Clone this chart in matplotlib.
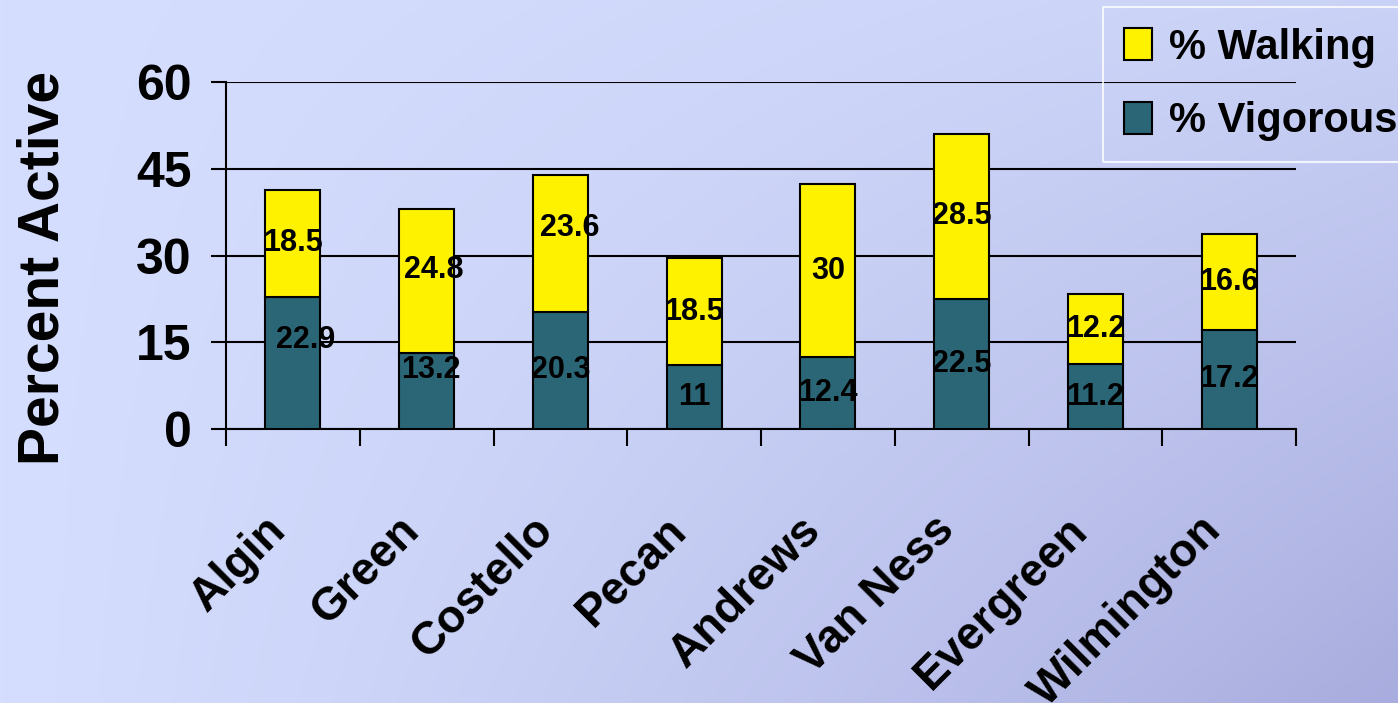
import numpy as np
import matplotlib
matplotlib.use("Agg")
from matplotlib import pyplot as plt
from matplotlib.ticker import FixedLocator
from matplotlib.transforms import ScaledTranslation

plt.rcParams['font.family'] = ['Liberation Sans', 'DejaVu Sans']
plt.rcParams['font.weight'] = 'bold'

# schools and percent active per school
schools = ['Algin', 'Green', 'Costello', 'Pecan', 'Andrews', 'Van Ness', 'Evergreen', 'Wilmington']
vigorous = [22.9, 13.2, 20.3, 11, 12.4, 22.5, 11.2, 17.2]
walking = [18.5, 24.8, 23.6, 18.5, 30, 28.5, 12.2, 16.6]
vig_text = ['22.9', '13.2', '20.3', '11', '12.4', '22.5', '11.2', '17.2']
walk_text = ['18.5', '24.8', '23.6', '18.5', '30', '28.5', '12.2', '16.6']
y_ticks = [0, 15, 30, 45, 60]

TEAL = '#2b6676'
YELLOW = '#fff200'

# a few labels sit off the segment centre (dx in points, dy in data units)
vig_nudge = {0: (9, 3.9), 1: (3, 3.6)}
walk_nudge = {1: (5, 1.9), 2: (7, 2.7)}

fig = plt.figure(figsize=(13.98, 7.03), dpi=100)

# soft diagonal background, darker toward the lower right
gx, gy = np.meshgrid(np.linspace(0, 1, 400), np.linspace(0, 1, 200))
t = gx ** 1.2 * (0.25 + 0.75 * gy)
light = np.array([213, 222, 254]) / 255.0
dark = np.array([168, 172, 222]) / 255.0
bg = light[None, None, :] * (1 - t[..., None]) + dark[None, None, :] * t[..., None]
bg_ax = fig.add_axes([0, 0, 1, 1], zorder=-10)
bg_ax.imshow(bg, aspect='auto', extent=[0, 1, 0, 1], origin='upper')
bg_ax.axis('off')

ax = fig.add_axes([226 / 1398, 1 - 429 / 703, 1070 / 1398, 347 / 703])
ax.patch.set_alpha(0)

x = np.arange(len(schools))
w = 0.41
b1 = ax.bar(x, vigorous, w, color=TEAL, edgecolor='black', linewidth=1.5,
            label='% Vigorous', zorder=3)
b2 = ax.bar(x, walking, w, bottom=vigorous, color=YELLOW, edgecolor='black',
            linewidth=1.5, label='% Walking', zorder=3)

for i in range(len(schools)):
    dx, dy = vig_nudge.get(i, (0, 0))
    ax.annotate(vig_text[i], (x[i], vigorous[i] / 2 + dy), xytext=(dx, 0),
                textcoords='offset points', ha='center', va='center',
                fontsize=22, fontweight='bold', zorder=5)
    dx, dy = walk_nudge.get(i, (0, 0))
    ax.annotate(walk_text[i], (x[i], vigorous[i] + walking[i] / 2 + dy), xytext=(dx, 0),
                textcoords='offset points', ha='center', va='center',
                fontsize=22, fontweight='bold', zorder=5)

ax.set_xlim(-0.5, len(schools) - 0.5)
ax.set_ylim(0, 60)
ax.set_yticks(y_ticks)
ax.set_yticklabels([str(v) for v in y_ticks], fontsize=36, fontweight='bold')
ax.tick_params(axis='y', direction='out', length=11, width=1.5, pad=14)
ax.yaxis.grid(True, color='black', linewidth=1.5, zorder=1)

ax.set_xticks(x)
ax.set_xticklabels(schools, fontsize=33, fontweight='bold', rotation=45,
                   ha='right', va='center', rotation_mode='anchor')
ax.tick_params(axis='x', which='major', length=0, pad=68)
shift = ScaledTranslation(-0.14, 0, fig.dpi_scale_trans)
for lab in ax.get_xticklabels():
    lab.set_transform(lab.get_transform() + shift)
ax.xaxis.set_minor_locator(FixedLocator(np.arange(-0.5, len(schools), 1.0)))
ax.tick_params(axis='x', which='minor', direction='out', length=12, width=1.5)

for s in ['top', 'right']:
    ax.spines[s].set_visible(False)
for s in ['left', 'bottom']:
    ax.spines[s].set_linewidth(1.5)
ax.set_axisbelow(True)

ax.set_ylabel('Percent Active', fontsize=41, fontweight='bold')
ax.yaxis.set_label_coords(-0.1455, 0.465)

leg = fig.legend(handles=[b2, b1], loc='upper left',
                 bbox_to_anchor=(1103 / 1398, 1 - 7 / 703), borderaxespad=0,
                 prop={'weight': 'bold', 'size': 30},
                 handlelength=0.68, handleheight=0.8, handletextpad=0.4,
                 labelspacing=0.8, borderpad=0.5, fancybox=False)
leg.get_frame().set_facecolor('none')
leg.get_frame().set_edgecolor('white')
leg.get_frame().set_linewidth(1.5)

fig.savefig('out.png', dpi=100)
